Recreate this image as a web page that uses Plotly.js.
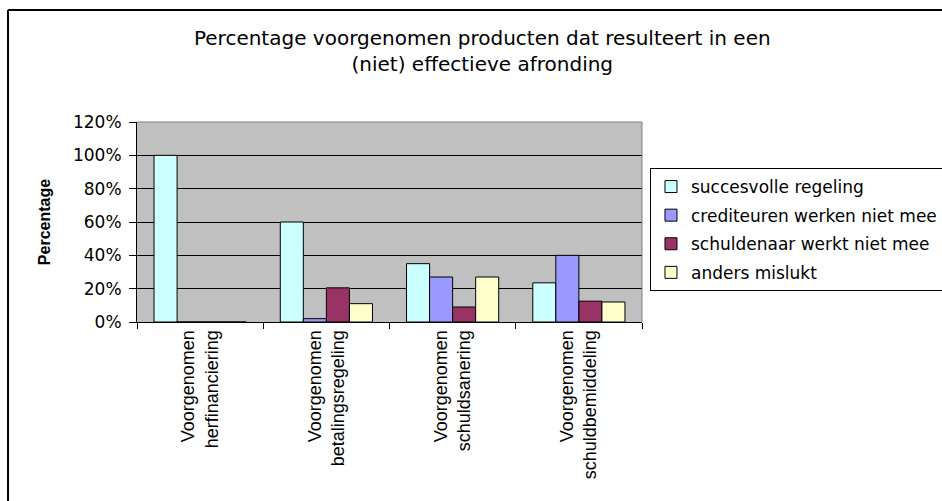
<!DOCTYPE html>
<html>
<head>
<meta charset="utf-8">
<script src="https://cdn.plot.ly/plotly-3.0.1.min.js"></script>
<style>html,body{margin:0;padding:0;background:#fff;}#chart{width:942px;height:501px;}</style>
</head>
<body>
<div id="chart"></div>
<script>
const categories = [
  "Voorgenomen<br>herfinanciering",
  "Voorgenomen<br>betalingsregeling",
  "Voorgenomen<br>schuldsanering",
  "Voorgenomen<br>schuldbemiddeling"
];
const seriesNames = [
  "succesvolle regeling",
  "crediteuren werken niet mee",
  "schuldenaar werkt niet mee",
  "anders mislukt"
];
const succesvolle = [100, 60, 35, 23.5];
const crediteuren = [0, 2, 27, 40];
const schuldenaar = [0, 20.5, 9, 12.5];
const anders = [0, 11, 27, 12];
const yTickVals = [0, 20, 40, 60, 80, 100, 120];
const yTickText = ["0%", "20%", "40%", "60%", "80%", "100%", "120%"];
const colors = ["#CCFFFF", "#9999FF", "#993366", "#FFFFCC"];

const values = [succesvolle, crediteuren, schuldenaar, anders];
const traces = values.map((v, i) => ({
  type: "bar",
  x: categories,
  y: v,
  name: seriesNames[i],
  legendgroup: "g" + i,
  marker: {color: colors[i], line: {color: "#000", width: 1}},
  hoverinfo: "skip"
}));

const layout = {
  width: 942, height: 501,
  margin: {l: 137, r: 300, t: 122, b: 179, autoexpand: false},
  paper_bgcolor: "#fff",
  plot_bgcolor: "#C0C0C0",
  barmode: "group",
  bargap: 0.27,
  bargroupgap: 0,
  font: {family: "Liberation Sans, Arial, sans-serif", color: "#000", size: 17},
  title: {
    text: "Percentage voorgenomen producten dat resulteert in een<br>(niet) effectieve afronding",
    font: {family: "DejaVu Sans, sans-serif", size: 20, color: "#000"},
    x: 0.512, xanchor: "center", xref: "container",
    y: 0.911, yanchor: "top", yref: "container"
  },
  xaxis: {
    type: "category",
    tickangle: -90,
    ticks: "outside", ticklen: 6, tickcolor: "#000", tickson: "boundaries",
    showline: true, linecolor: "#000", linewidth: 1,
    showgrid: false,
    tickfont: {family: "Liberation Sans, Arial, sans-serif", size: 18, color: "#000"}
  },
  yaxis: {
    range: [0, 120],
    tickvals: yTickVals, ticktext: yTickText,
    ticks: "outside", ticklen: 7, tickcolor: "#000",
    ticklabelstandoff: 4,
    showline: true, linecolor: "#000", linewidth: 1,
    showgrid: true, gridcolor: "#000", gridwidth: 1,
    zeroline: false,
    tickfont: {family: "DejaVu Sans, sans-serif", size: 17, color: "#000"},
    title: {text: "<b>Percentage</b>", font: {family: "Liberation Sans, Arial, sans-serif", size: 16, color: "#000"}, standoff: 18}
  },
  legend: {
    x: 1.0158, xanchor: "left",
    y: 0.77, yanchor: "top",
    bgcolor: "#fff", bordercolor: "#000", borderwidth: 1,
    font: {family: "DejaVu Sans, sans-serif", size: 17, color: "#000"},
    traceorder: "grouped",
    tracegroupgap: 3.5
  },
  shapes: [
    {type: "line", xref: "paper", yref: "paper", x0: 0, x1: 1, y0: 1, y1: 1, line: {color: "#808080", width: 1}, layer: "above"},
    {type: "line", xref: "paper", yref: "paper", x0: 1, x1: 1, y0: 0, y1: 1, line: {color: "#808080", width: 1}, layer: "above"},
    {type: "line", xref: "paper", yref: "paper", x0: -0.2554, x1: 1.62, y0: 1.56, y1: 1.56, line: {color: "#000", width: 2}},
    {type: "line", xref: "paper", yref: "paper", x0: -0.2554, x1: -0.2554, y0: -0.95, y1: 1.56, line: {color: "#000", width: 2}}
  ],
  showlegend: true
};

Plotly.newPlot("chart", traces, layout, {displayModeBar: false, staticPlot: true});
</script>
</body>
</html>
